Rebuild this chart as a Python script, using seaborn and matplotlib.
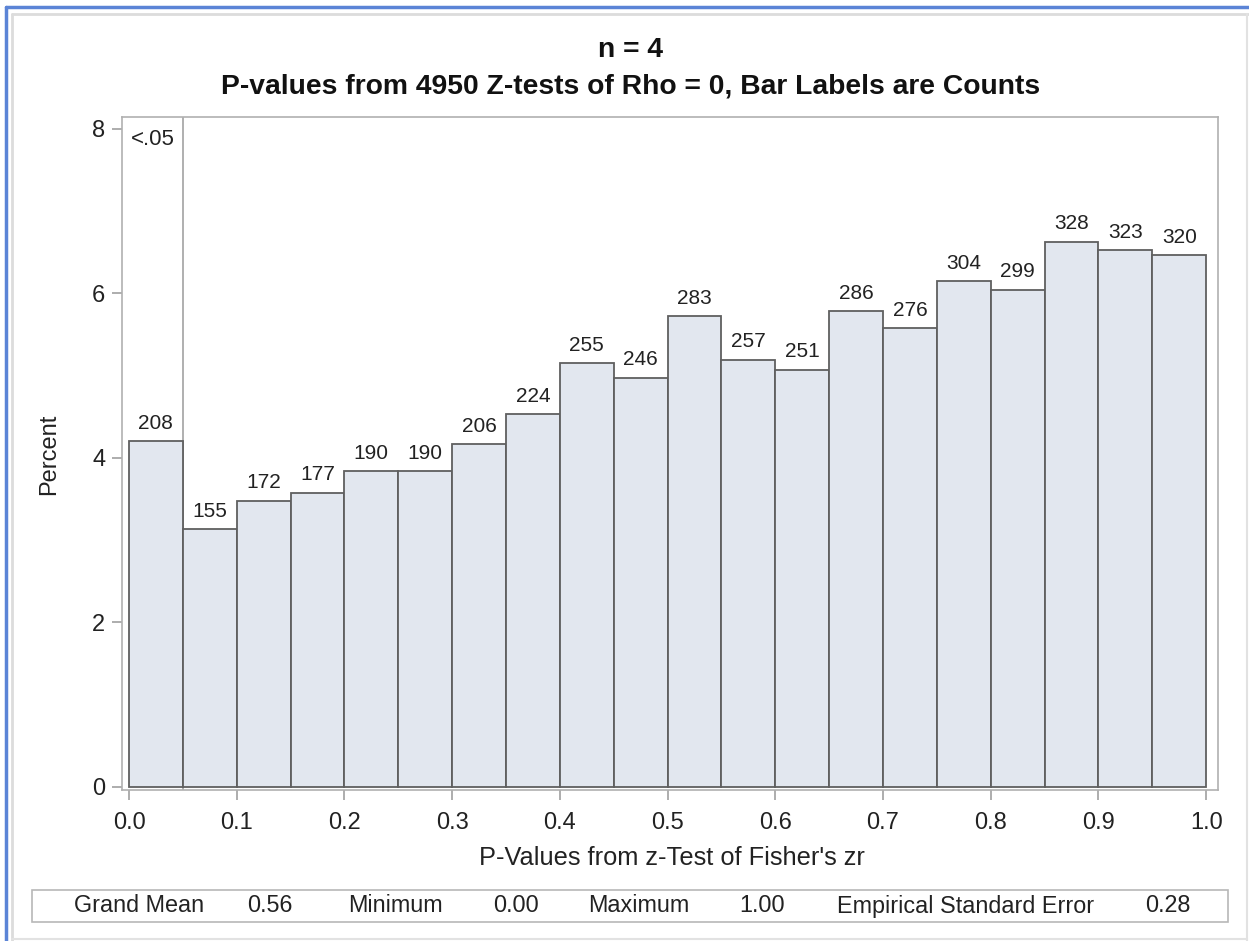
import numpy as np
import pandas as pd
import seaborn as sns
import matplotlib.pyplot as plt
from matplotlib.patches import Rectangle
from matplotlib.lines import Line2D

# Histogram bins of p-values (width 0.05) and their counts
bin_edges = [round(0.05 * i, 2) for i in range(21)]
bin_counts = [208, 155, 172, 177, 190, 190, 206, 224, 255, 246,
              283, 257, 251, 286, 276, 304, 299, 328, 323, 320]
x_ticks = [round(0.1 * i, 1) for i in range(11)]
y_ticks = [0, 2, 4, 6, 8]
cutoff = 0.05

stat_names = ["Grand Mean", "Minimum", "Maximum", "Empirical Standard Error"]
stat_values = ["0.56", "0.00", "1.00", "0.28"]

title_lines = ["n = 4", "P-values from 4950 Z-tests of Rho = 0, Bar Labels are Counts"]
x_label = "P-Values from z-Test of Fisher's zr"
y_label = "Percent"

W, H = 1249, 941
sns.set_style("white")
plt.rcParams["font.family"] = ["Liberation Sans", "DejaVu Sans"]

fig = plt.figure(figsize=(W / 100, H / 100), dpi=100)
ax = fig.add_axes([122 / W, 1 - 790 / H, (1218 - 122) / W, (790 - 117) / H])

mids = [(bin_edges[i] + bin_edges[i + 1]) / 2 for i in range(len(bin_counts))]
df = pd.DataFrame({"p": mids, "n": bin_counts})
sns.histplot(data=df, x="p", weights="n", bins=bin_edges, stat="percent",
             color="#e2e7ef", edgecolor="#5f5f5f", linewidth=1.3, alpha=1,
             ax=ax)

ax.bar_label(ax.containers[0], labels=[str(c) for c in bin_counts],
             padding=6, fontsize=15, color="#222222")

ax.axvline(cutoff, color="#a9a9a9", lw=1.3, zorder=0.5)
ax.text(0.002, 7.99, "<.05", ha="left", va="top", fontsize=16, color="#222222")

ax.set_xlim(-0.0065, 1.011)
ax.set_ylim(-0.04, 8.14)
ax.set_xticks(x_ticks)
ax.set_xticklabels([f"{t:.1f}" for t in x_ticks])
ax.set_yticks(y_ticks)
ax.tick_params(axis="both", which="both", direction="out", length=7,
               width=1.2, color="#a0a0a0", labelsize=17, labelcolor="#222222",
               bottom=True, left=True, pad=5)
ax.tick_params(axis="x", pad=9)
for s in ax.spines.values():
    s.set_color("#b0b0b0")
    s.set_linewidth(1.2)
ax.set_xlabel("")
ax.set_ylabel("")

def fx(px):
    return px / W

def fy(py):
    return 1 - py / H

fig.text(fx(672), fy(858), x_label, ha="center", va="center", fontsize=18.3, color="#222222")
fig.text(fx(49), fy(454), y_label, ha="center", va="center", rotation=90, fontsize=17, color="#222222")

fig.text(fx(631), fy(50), title_lines[0], ha="center", va="center", fontsize=20.3, weight="bold", color="#111111")
fig.text(fx(631), fy(87), title_lines[1], ha="center", va="center", fontsize=20.3, weight="bold", color="#111111")

# Summary statistics strip
fig.add_artist(Rectangle((fx(32), fy(922)), fx(1228) - fx(32), fy(890) - fy(922),
                         transform=fig.transFigure, fill=False, edgecolor="#b8b8b8", lw=1.2))
name_x = [139, 395, 639, 966]
val_x = [270, 516, 762, 1168]
for nm, vl, nx, vx in zip(stat_names, stat_values, name_x, val_x):
    fig.text(fx(nx), fy(906), nm, ha="center", va="center", fontsize=16.8, color="#222222")
    fig.text(fx(vx), fy(906), vl, ha="center", va="center", fontsize=16.8, color="#222222")

# Window frame
fig.add_artist(Line2D([fx(6), fx(1249)], [fy(7), fy(7)], transform=fig.transFigure, color="#5b84d6", lw=2.5))
fig.add_artist(Line2D([fx(6), fx(6)], [fy(7), fy(941)], transform=fig.transFigure, color="#5b84d6", lw=2.5))
fig.add_artist(Line2D([fx(12), fx(1249)], [fy(14), fy(14)], transform=fig.transFigure, color="#dcdcdc", lw=2))
fig.add_artist(Line2D([fx(12), fx(12)], [fy(14), fy(941)], transform=fig.transFigure, color="#dcdcdc", lw=2))
fig.add_artist(Line2D([fx(1247), fx(1247)], [fy(14), fy(941)], transform=fig.transFigure, color="#e2e2e2", lw=1.5))
fig.add_artist(Line2D([fx(12), fx(1247)], [fy(939), fy(939)], transform=fig.transFigure, color="#e2e2e2", lw=1.5))

fig.savefig("out.png", dpi=100)
